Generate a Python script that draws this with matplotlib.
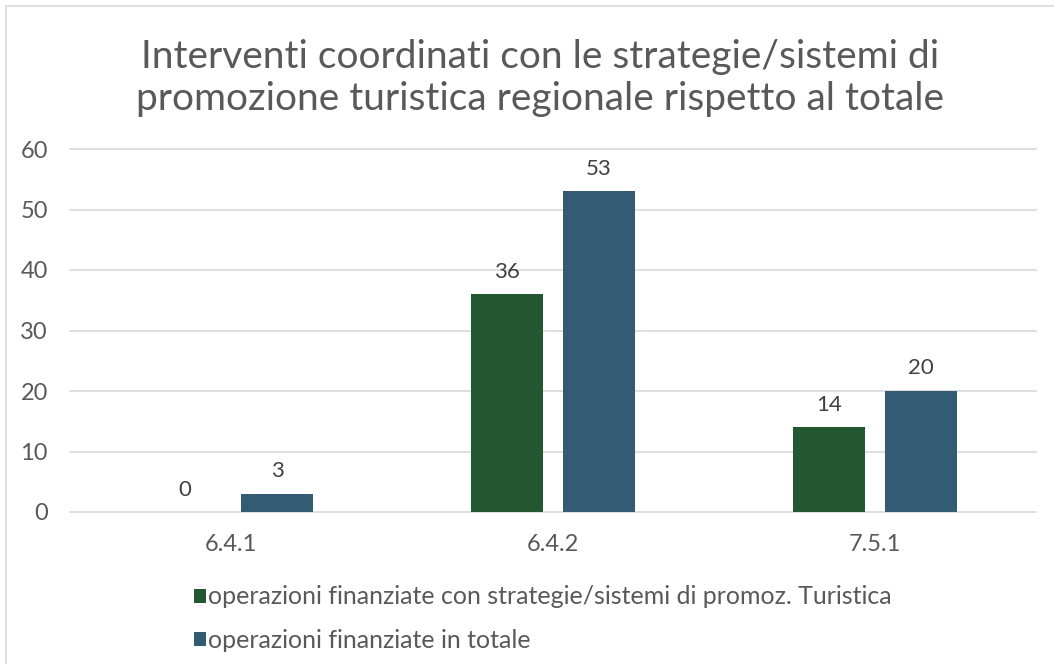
import matplotlib.pyplot as plt
import numpy as np
from matplotlib.patches import Rectangle

categories = ['6.4.1', '6.4.2', '7.5.1']
promoz = [0, 36, 14]
totale = [3, 53, 20]
labels = ['operazioni finanziate con strategie/sistemi di promoz. Turistica',
          'operazioni finanziate in totale']
title = 'Interventi coordinati con le strategie/sistemi di\npromozione turistica regionale rispetto al totale'

green = '#22572F'
blue = '#335B74'
grey = '#595959'

plt.rcParams['font.family'] = ['Lato', 'DejaVu Sans']

W, H = 1054, 664
fig = plt.figure(figsize=(W / 100, H / 100), dpi=100)
fig.patches.append(Rectangle((6 / W, -0.1), 1.2, 1 - 6 / H + 0.1, transform=fig.transFigure,
                             fill=False, edgecolor='#D9D9D9', linewidth=1.2))

ax = fig.add_axes([70 / W, (H - 512) / H, 966 / W, (512 - 149) / H])
x = np.arange(len(categories))
w = 0.224
off = 0.143
b1 = ax.bar(x - off, promoz, w, color=green, label=labels[0])
b2 = ax.bar(x + off, totale, w, color=blue, label=labels[1])
for bars in (b1, b2):
    for r in bars:
        ax.annotate(str(int(r.get_height())), (r.get_x() + r.get_width() / 2, r.get_height()),
                    xytext=(0, 9), textcoords='offset points', ha='center', va='bottom',
                    fontsize=16, color='#404040')

ax.set_xlim(-0.5, 2.5)
ax.set_ylim(0, 60)
ax.set_yticks(range(0, 61, 10))
ax.set_xticks(x)
ax.set_xticklabels(categories)
ax.tick_params(length=0, labelsize=17, labelcolor=grey)
ax.tick_params(axis='x', pad=16)
ax.tick_params(axis='y', pad=16)
ax.grid(axis='y', color='#D9D9D9', linewidth=1.2)
for gl in ax.get_ygridlines():
    gl.set_clip_on(False)
ax.set_axisbelow(True)
for s in ax.spines.values():
    s.set_visible(False)

fig.text(540 / W, 1 - 78 / H, title, ha='center', va='center', fontsize=28,
         color=grey, linespacing=1.2)

leg = fig.legend(handles=[b1, b2], loc='upper left', bbox_to_anchor=(181 / W, 1 - 573 / H),
                 frameon=False, fontsize=18, labelcolor=grey, handlelength=0.5,
                 handleheight=0.5, handletextpad=0.1, labelspacing=0.8, borderpad=0)

fig.savefig('out.png', dpi=100)
